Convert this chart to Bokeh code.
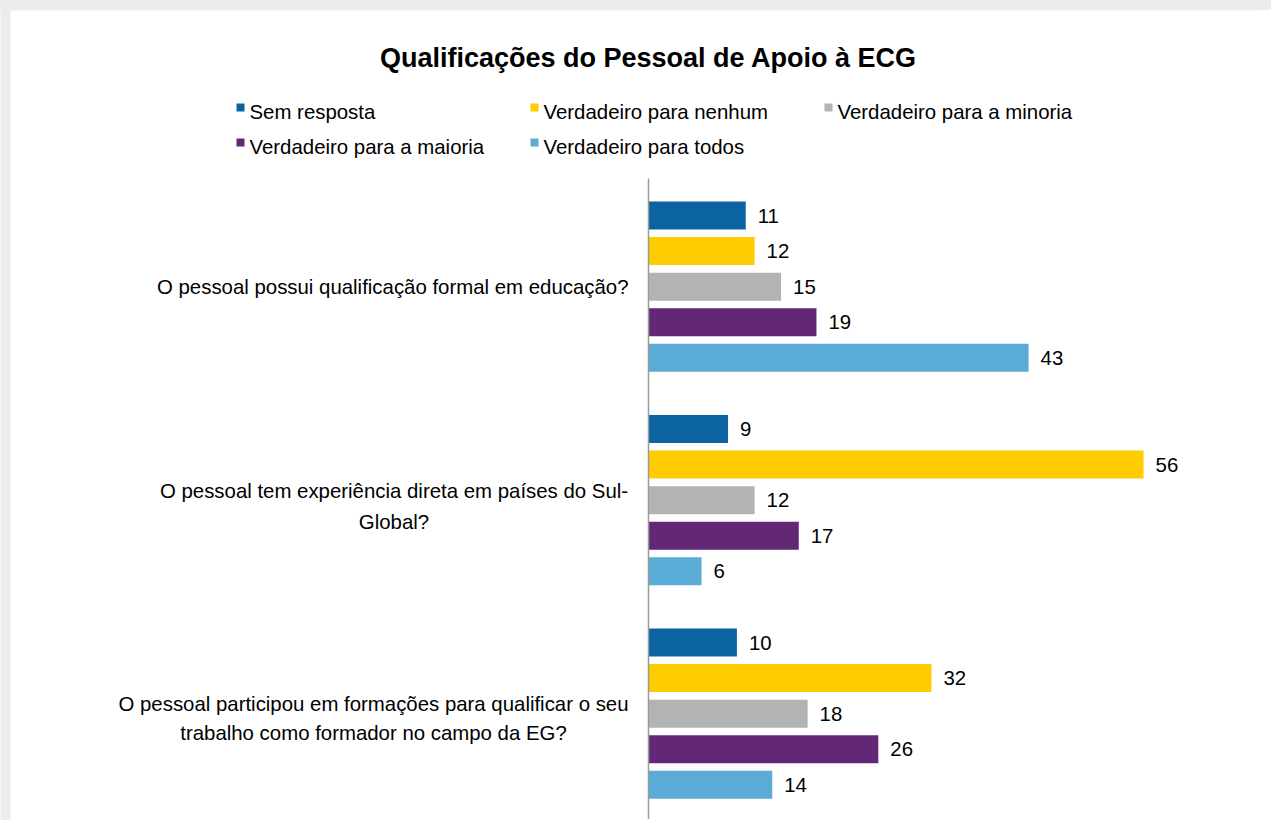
from bokeh.plotting import figure
from bokeh.models import Range1d, ColumnDataSource
from bokeh.core.properties import value
from bokeh.embed import file_html
from bokeh.resources import INLINE

# ---------------- data ----------------
title_text = "Qualificações do Pessoal de Apoio à ECG"
categories = [
    "O pessoal possui qualificação formal em educação?",
    "O pessoal tem experiência direta em países do Sul-\nGlobal?",
    "O pessoal participou em formações para qualificar o seu\ntrabalho como formador no campo da EG?",
]
series_names = [
    "Sem resposta",
    "Verdadeiro para nenhum",
    "Verdadeiro para a minoria",
    "Verdadeiro para a maioria",
    "Verdadeiro para todos",
]
sem_resposta = [11, 9, 10]
verdadeiro_nenhum = [12, 56, 32]
verdadeiro_minoria = [15, 12, 18]
verdadeiro_maioria = [19, 17, 26]
verdadeiro_todos = [43, 6, 14]
series_values = [sem_resposta, verdadeiro_nenhum, verdadeiro_minoria,
                 verdadeiro_maioria, verdadeiro_todos]
series_colors = ["#0B64A0", "#FFCC00", "#B3B3B3", "#622775", "#5AACD6"]

# ---------------- layout (reference pixel geometry) ----------------
W, H = 1255, 820
OFF = 0                      # canvas origin as seen in the screenshot
K = 8.84                     # pixels per value unit
X0 = 648                     # page x of value 0
S = 213.5 / 6                # pixels per slot (6 slots per group)
Y0 = 178                     # page y of the top of the axis
SLOTS = 6
BAR_H = 28 / S
FIRST = 1.04
FONT = "Liberation Sans"


def X(px):
    return (px - X0) / K


def Y(py):
    return (py - Y0) / S


p = figure(width=W, height=H, output_backend="svg", toolbar_location=None,
           x_range=Range1d(X(OFF), X(OFF + W)),
           y_range=Range1d(Y(OFF + H), Y(OFF)),
           x_axis_location=None, y_axis_location=None,
           min_border=0, outline_line_color=None,
           background_fill_color="#ECECEC", border_fill_color="#ECECEC")
p.grid.visible = False

# white card
p.quad(left=X(10), right=X(1400), top=Y(10), bottom=Y(1000),
       fill_color="#FFFFFF", line_color=None)

# bars + value labels
n = len(categories)
for s, (name, vals, col) in enumerate(zip(series_names, series_values, series_colors)):
    ys = [g * SLOTS + FIRST + s for g in range(n)]
    src = ColumnDataSource(dict(y=ys, v=vals, t=[str(v) for v in vals]))
    p.hbar(y="y", left=0, right="v", height=BAR_H, source=src,
           fill_color=col, line_color=None)
    p.text(x="v", y="y", text="t", source=src, x_offset=12, y_offset=0,
           text_align="left", text_baseline="middle",
           text_font=value(FONT), text_font_size="20.4px", text_color="#000000")

# axis line
p.segment(x0=[0], y0=[0], x1=[0], y1=[n * SLOTS], line_color="#9A9A9A", line_width=1.5)

# category labels (lines centered within a right-aligned block)
label_right = 628
label_centers = [None, 393.5, 373]
label_line_y = [[286], [490, 521], [703, 732]]
for g, cat in enumerate(categories):
    lines = cat.split("\n")
    for i, line in enumerate(lines):
        if len(lines) == 1:
            p.text(x=[X(label_right)], y=[Y(label_line_y[g][i])], text=[line],
                   text_align="right", text_baseline="middle",
                   text_font=value(FONT), text_font_size="20.4px", text_color="#000000")
        else:
            p.text(x=[X(label_centers[g])], y=[Y(label_line_y[g][i])], text=[line],
                   text_align="center", text_baseline="middle",
                   text_font=value(FONT), text_font_size="20.4px", text_color="#000000")

# title
p.text(x=[X(648)], y=[Y(57)], text=[title_text], text_align="center",
       text_baseline="middle", text_font=value(FONT), text_font_size="27px",
       text_font_style="bold", text_color="#000000")

# legend (3 columns, row-major)
leg_cols = [236, 530, 824]
leg_rows = [111, 146]
for i, (name, col) in enumerate(zip(series_names, series_colors)):
    cx = leg_cols[i % 3]
    cy = leg_rows[i // 3]
    p.rect(x=[X(cx + 4)], y=[Y(cy - 4)], width=8 / K, height=8 / S,
           fill_color=col, line_color=None)
    p.text(x=[X(cx + 13)], y=[Y(cy)], text=[name], text_align="left",
           text_baseline="middle", text_font=value(FONT),
           text_font_size="20.4px", text_color="#000000")

html = file_html(p, INLINE)
html = html.replace(
    "</head>",
    "<style>body{background:linear-gradient(#ECECEC 0px, #ECECEC 10px, #FFFFFF 10px) no-repeat;"
    "background-color:#FFFFFF;}</style></head>", 1)
open("out.html", "w").write(html)
